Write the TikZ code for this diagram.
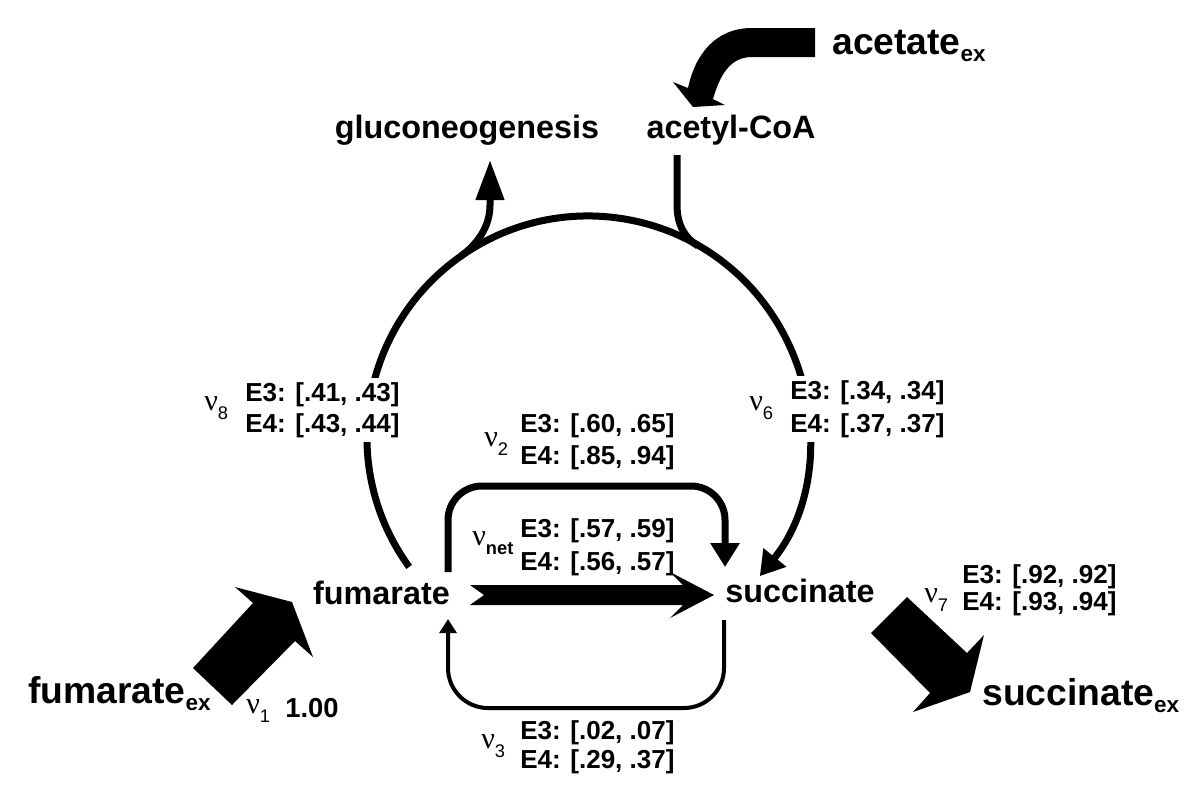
\documentclass[tikz,border=0pt]{standalone}
\usepackage{fontspec}
\setmainfont{Liberation Sans}
\newfontfamily\nufont{Liberation Serif}
\usetikzlibrary{arrows.meta,calc}
\newcommand\nusub[1]{\raisebox{-0.3em}{\fontsize{13}{13}\selectfont #1}}
\newcommand\exsub{\raisebox{-0.2em}{\fontsize{16}{16}\selectfont ex}}
\begin{document}
\begin{tikzpicture}[x=0.025cm,y=0.025cm,
  main/.style={font=\fontsize{23}{27}\selectfont\bfseries, inner sep=0pt, anchor=base},
  exlab/.style={font=\fontsize{26.5}{30}\selectfont\bfseries, inner sep=0pt, anchor=base west},
  elab/.style={font=\fontsize{18.5}{22}\selectfont\bfseries, inner xsep=0pt, inner ysep=3pt, anchor=base west},
  nulab/.style={font=\fontsize{21.5}{24}\selectfont, inner sep=0pt, anchor=base west},
  thickflow/.style={line width=0.175cm},
  thinflow/.style={line width=0.1cm},
  bigtip/.style={-{Triangle[length=0.6cm,width=0.7cm]}},
  blockarrow/.style={fill=black, draw=none}
]
\useasboundingbox (0,0) rectangle (1200,-805);

% metabolite labels
\node[main] (fum) at (381.5,-604) {fumarate};
\node[main] (suc) at (800,-602) {succinate};
\node[main] (glu) at (467,-138) {gluconeogenesis};
\node[main] (acc) at (731,-138) {acetyl-CoA};
\node[exlab] (acex) at (832,-54) {acetate\exsub};
\node[exlab] (fumex) at (28,-703) {fumarate\exsub};
\node[exlab] (sucex) at (982,-705) {succinate\exsub};

% circle (cycle) centre
\coordinate (cc) at (588,-437);
\coordinate (arcstart) at ($(cc)+(216:5.525cm)$);

% main cycle arc from fumarate to succinate
\draw[thickflow, bigtip] (arcstart) arc[start angle=216, end angle=-39, radius=5.525cm];

% gluconeogenesis branch
\coordinate (gluA) at (461,-256);
\coordinate (gluT) at (490,-160);
\draw[thickflow, -{Triangle[length=1.0cm,width=0.68cm]}] (gluA) .. controls (476,-245) and (490,-228) .. (490,-205) -- (gluT);

% acetyl-CoA branch
\coordinate (accS) at (677,-155);
\coordinate (accJ) at (698,-246);
\draw[thickflow] (accS) -- (677,-205) .. controls (677,-225) and (685,-238) .. (accJ);

% v2 loop
\coordinate (v2s) at (448,-572);
\coordinate (v2e) at (725,-567);
\draw[thickflow, bigtip, rounded corners=0.85cm] (v2s) -- (448,-486) -- (725,-486) -- (v2e);

% v3 loop
\coordinate (v3s) at (724,-620);
\coordinate (v3e) at (448,-619);
\draw[thinflow, rounded corners=1cm, -{Triangle[length=0.35cm,width=0.42cm]}] (v3s) -- (724,-708) -- (448,-708) -- (v3e);

% v_net block arrow
\fill[blockarrow] (470,-585) -- (683,-585) -- (670,-572) -- (714,-595) -- (670,-618) -- (683,-605) -- (470,-605) -- (484,-595) -- cycle;

% v1 block arrow (fumarate_ex -> fumarate)
\fill[blockarrow] (193,-668) -- (253,-603) -- (235,-587) -- (292,-602) -- (313,-657) -- (295,-641) -- (232,-705) -- cycle;

% v7 block arrow (succinate -> succinate_ex)
\fill[blockarrow] (907,-597) -- (967,-653) -- (984,-635) -- (970,-692) -- (913,-712) -- (930,-693) -- (871,-633) -- cycle;

% acetate_ex curved block arrow
\fill[blockarrow] (815,-28) -- (752,-28) .. controls (715,-28) and (695,-55) .. (688,-88) -- (673,-82) -- (693,-107) -- (725,-105) -- (713,-99) .. controls (720,-75) and (730,-57) .. (752,-57) -- (815,-57) -- cycle;

% flux labels
\node[nulab] (nu8) at (204,-410) {{\nufont ν}\nusub{8}};
\node[elab, fill=white] (e8a) at (245,-401) {E3: [.41, .43]};
\node[elab, fill=white] (e8b) at (245,-432) {E4: [.43, .44]};

\node[nulab] (nu6) at (749,-410) {{\nufont ν}\nusub{6}};
\node[elab, fill=white] (e6a) at (790,-399) {E3: [.34, .34]};
\node[elab, fill=white] (e6b) at (790,-432) {E4: [.37, .37]};

\node[nulab] (nu2) at (484,-446) {{\nufont ν}\nusub{2}};
\node[elab] (e2a) at (520,-432) {E3: [.60, .65]};
\node[elab] (e2b) at (520,-464) {E4: [.85, .94]};

\node[nulab] (nunet) at (472,-545) {{\nufont ν}\nusub{\bfseries net}};
\node[elab] (ena) at (520,-537) {E3: [.57, .59]};
\node[elab] (enb) at (520,-570) {E4: [.56, .57]};

\node[nulab] (nu3) at (481,-748) {{\nufont ν}\nusub{3}};
\node[elab] (e3a) at (520,-739) {E3: [.02, .07]};
\node[elab] (e3b) at (520,-768) {E4: [.29, .37]};

\node[nulab] (nu7) at (924,-602) {{\nufont ν}\nusub{7}};
\node[elab] (e7a) at (962,-583) {E3: [.92, .92]};
\node[elab] (e7b) at (962,-610) {E4: [.93, .94]};

\node[nulab] (nu1) at (246,-713) {{\nufont ν}\nusub{1}};
\node[elab, font=\fontsize{19.5}{22}\selectfont\bfseries] (v1val) at (285,-717) {1.00};
\end{tikzpicture}
\end{document}
